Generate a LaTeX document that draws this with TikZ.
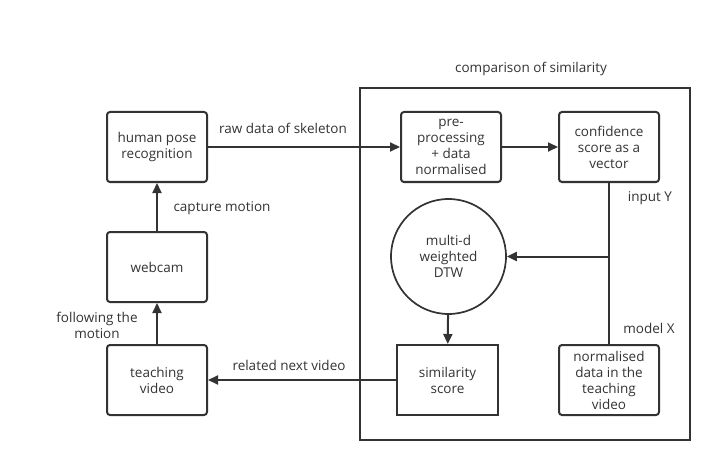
\documentclass[tikz,border=0pt]{standalone}
\usepackage{fontspec}
\setmainfont{Open Sans}
\usetikzlibrary{arrows.meta}
\definecolor{ink}{HTML}{333333}
\begin{document}
\begin{tikzpicture}[x=1pt,y=-1pt,
  every node/.style={font=\fontsize{13.5}{16}\selectfont, text=ink, align=center},
  rbox/.style={draw=ink, line width=2pt, rounded corners=3pt, minimum width=100pt, minimum height=70pt, inner sep=1pt},
  sbox/.style={draw=ink, line width=2pt, minimum width=101pt, minimum height=70pt, inner sep=1pt},
  conn/.style={draw=ink, line width=2pt},
  arr/.style={conn, -{Triangle[length=10pt,width=9pt]}},
  lbl/.style={inner sep=0pt}]
\useasboundingbox (0,0) rectangle (722,473);
\draw[ink, line width=2pt] (360,88) rectangle (690,440);
\node[lbl] (title) at (531,69) {comparison of similarity};
\node[rbox] (hp) at (157,147) {human pose\\recognition};
\node[rbox] (wc) at (157,267) {webcam};
\node[rbox] (tv) at (157,380) {teaching\\video};
\node[rbox] (pp) at (451,147) {pre-\\processing\\+ data\\normalised};
\node[rbox] (cs) at (609,147) {confidence\\score as a\\vector};
\node[circle, draw=ink, line width=1.7pt, minimum size=115pt, inner sep=0pt] (dtw) at (448.5,256.5) {multi-d\\weighted\\DTW};
\node[sbox] (ss) at (447.5,380) {similarity\\score};
\node[rbox] (nd) at (609,380) {normalised\\data in the\\teaching\\video};
\coordinate (j) at (609,256.5);
\draw[arr] (hp) -- (pp);
\draw[arr] (pp) -- (cs);
\draw[arr] (wc) -- (hp);
\draw[arr] (tv) -- (wc);
\draw[conn, line width=1.6pt] (cs) -- (nd);
\draw[arr] (j) -- (dtw);
\draw[arr] (dtw) -- (ss);
\draw[arr] (ss) -- (tv);
\node[lbl] (l1) at (283,128) {raw data of skeleton};
\node[lbl] (l2) at (222,208) {capture motion};
\node[lbl] (l3) at (97,325) {following the\\motion};
\node[lbl] (l4) at (289,365) {related next video};
\node[lbl] (iy) at (650,198) {input Y};
\node[lbl] (mx) at (649,328) {model X};
\end{tikzpicture}
\end{document}
